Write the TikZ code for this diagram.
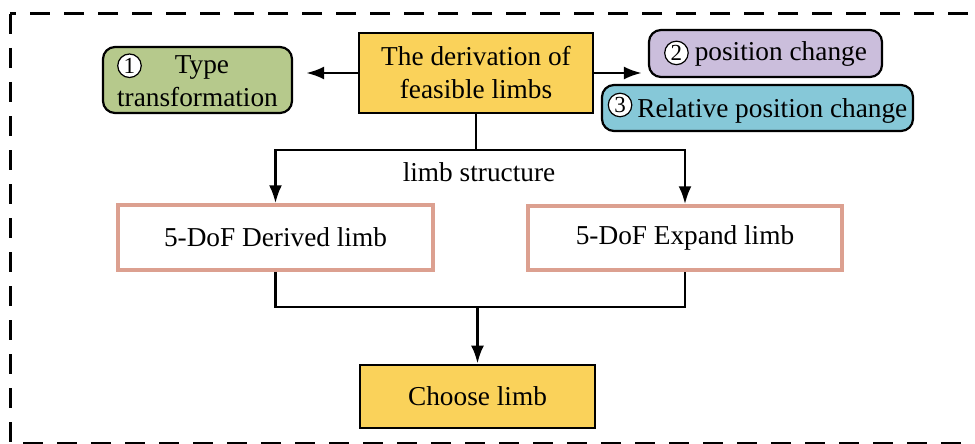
\documentclass[tikz,border=0pt]{standalone}
\usepackage{fontspec}
\setmainfont{Liberation Serif}
\usepackage{tikz}
\usetikzlibrary{arrows.meta,calc,positioning}
\usepackage{xcolor}
\definecolor{LimbYellow}{HTML}{FAD25A}
\definecolor{LimbGreen}{HTML}{B6C98C}
\definecolor{LimbPurple}{HTML}{CBBEDC}
\definecolor{LimbCyan}{HTML}{86C8D8}
\definecolor{LimbRose}{HTML}{DCA090}
\newcommand{\bodyfont}{\fontsize{27.3}{33}\selectfont}
\tikzset{
  flowarrow/.style={-{Latex[length=18pt,width=13pt]},line width=2.8pt,draw=black},
  flowline/.style={line width=2.8pt,draw=black},
  frame/.style={draw=black,line width=3pt,dash pattern=on 20pt off 14pt},
  keybox/.style={draw=black,line width=2.8pt,fill=LimbYellow,align=center,font=\bodyfont,inner sep=0pt},
  limbbox/.style={draw=LimbRose,line width=3.5pt,fill=white,align=center,font=\bodyfont,inner sep=0pt},
  rulebox/.style={draw=black,line width=2.2pt,rounded corners=12pt,align=left,font=\bodyfont,inner sep=0pt},
  numcirc/.style={circle,draw=black,fill=white,line width=1.2pt,minimum size=23.5pt,inner sep=0pt,
    sharp corners,text=black,font=\fontsize{23}{23}\selectfont,align=center}
}
\newcommand{\stepnum}[1]{\tikz[baseline=(n.base)]\node[numcirc](n){#1};}

\begin{document}
\begin{tikzpicture}[x=1pt,y=-1pt]
  \useasboundingbox (0,0) rectangle (975,444);
  \draw[frame] (10,14) rectangle (995,443);

  \node[keybox,minimum width=234pt,minimum height=80pt] (derive) at (476,73)
    {The derivation of\\feasible limbs};
  \node[rulebox,fill=LimbGreen,minimum width=189pt,minimum height=66pt] (typeT) at (197.5,80)
    {\stepnum{1}\hspace{33pt}Type\\transformation};
  \node[rulebox,fill=LimbPurple,minimum width=233pt,minimum height=47pt] (posC) at (765.5,53.5)
    {\stepnum{2}\hspace{6pt}position change};
  \node[rulebox,fill=LimbCyan,minimum width=311pt,minimum height=46pt] (relC) at (757.5,108)
    {\raisebox{5pt}{\stepnum{3}}\hspace{5pt}Relative position change};

  \node[limbbox,minimum width=315pt,minimum height=65pt] (derived) at (275.5,237.5) {5-DoF Derived limb};
  \node[limbbox,minimum width=314pt,minimum height=64pt] (expand) at (685,238) {5-DoF Expand limb};
  \node[keybox,minimum width=235pt,minimum height=63pt] (choose) at (477.5,396.5) {Choose limb};

  \coordinate (split) at (476,150);
  \coordinate (join) at (477.5,307);
  \node[font=\bodyfont] (struct) at (479,172) {limb structure};

  \draw[flowarrow,shorten >=13pt] (derive.west) -- (derive.west -| typeT.east);
  \draw[flowarrow,shorten >=6pt] (derive.east) -- (derive.east -| posC.west);
  \draw[flowline] (derive.south) -- (split);
  \draw[flowarrow] (split) -| (derived.north);
  \draw[flowarrow] (split) -| (expand.north);
  \draw[flowline] (derived.south) |- (join) -| (expand.south);
  \draw[flowarrow] (join) -- (choose.north);
\end{tikzpicture}
\end{document}
